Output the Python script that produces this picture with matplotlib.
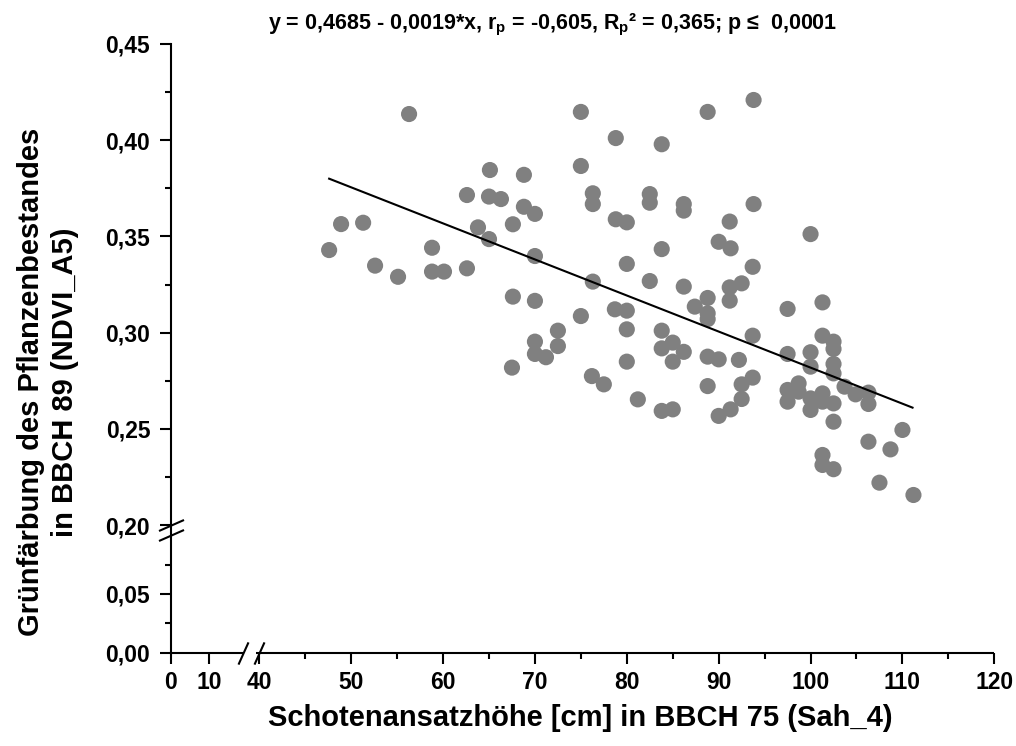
import numpy as np
import matplotlib
matplotlib.use("Agg")
import matplotlib.pyplot as plt

# ---------------- data ----------------
sah_4 = [56.3, 65.1, 68.8, 62.6, 65.0, 66.3, 68.8, 70.0, 48.9, 51.3, 63.8, 67.6,
         65.0, 47.6, 58.8, 70.0, 52.6, 55.1, 58.8, 60.1, 62.6, 67.6, 70.0, 70.0,
         70.0, 71.2, 67.5, 75.0, 88.8, 78.8, 83.8, 75.0, 76.3, 76.3, 82.5, 82.5,
         86.2, 86.2, 91.2, 78.8, 80.0, 90.0, 91.3, 83.8, 80.0, 76.3, 82.5, 86.2,
         88.8, 91.2, 93.7, 92.5, 91.2, 88.8, 88.8, 87.4, 78.7, 80.0, 75.0, 80.0,
         83.8, 72.5, 72.5, 83.8, 85.0, 86.2, 85.0, 80.0, 88.8, 90.0, 92.2, 76.2,
         77.5, 88.8, 92.5, 81.2, 83.8, 85.0, 90.0, 91.3, 92.5, 93.8, 93.8, 100.0,
         97.5, 101.3, 93.7, 101.3, 102.5, 102.5, 97.5, 100.0, 100.0, 102.5, 102.5,
         93.7, 98.7, 97.5, 97.5, 98.7, 100.0, 100.0, 101.3, 101.3, 102.5, 102.5,
         103.7, 104.9, 106.3, 106.3, 106.3, 108.7, 110.0, 101.3, 101.3, 102.5,
         107.5, 111.2]
ndvi_a5 = [0.4136, 0.3845, 0.3820, 0.3715, 0.3707, 0.3694, 0.3654, 0.3617, 0.3564,
           0.3571, 0.3547, 0.3563, 0.3486, 0.3429, 0.3441, 0.3398, 0.3348, 0.3290,
           0.3317, 0.3317, 0.3334, 0.3187, 0.3165, 0.2953, 0.2889, 0.2872, 0.2818,
           0.4147, 0.4147, 0.4011, 0.3979, 0.3866, 0.3724, 0.3668, 0.3720, 0.3675,
           0.3668, 0.3634, 0.3577, 0.3589, 0.3573, 0.3472, 0.3438, 0.3434, 0.3357,
           0.3265, 0.3268, 0.3239, 0.3180, 0.3235, 0.3342, 0.3256, 0.3166, 0.3100,
           0.3070, 0.3135, 0.3121, 0.3114, 0.3086, 0.3017, 0.3010, 0.3010, 0.2930,
           0.2918, 0.2948, 0.2900, 0.2849, 0.2849, 0.2875, 0.2861, 0.2858, 0.2774,
           0.2731, 0.2722, 0.2731, 0.2653, 0.2593, 0.2601, 0.2567, 0.2601, 0.2655,
           0.4209, 0.3668, 0.3512, 0.3123, 0.3157, 0.2984, 0.2984, 0.2953, 0.2915,
           0.2889, 0.2898, 0.2823, 0.2837, 0.2788, 0.2766, 0.2736, 0.2702, 0.2641,
           0.2693, 0.2658, 0.2598, 0.2684, 0.2641, 0.2632, 0.2537, 0.2719, 0.2679,
           0.2688, 0.2629, 0.2433, 0.2393, 0.2494, 0.2364, 0.2312, 0.2290, 0.2220,
           0.2156]
fit_x = [47.6, 111.1]
fit_y = [0.380, 0.261]

x_major = [0, 10, 40, 50, 60, 70, 80, 90, 100, 110, 120]
x_minor = [45, 55, 65, 75, 85, 95, 105, 115]
y_major = [0.00, 0.05, 0.20, 0.25, 0.30, 0.35, 0.40, 0.45]
y_minor = [0.025, 0.075, 0.225, 0.275, 0.325, 0.375, 0.425]

title = ("y = 0,4685 - 0,0019*x, r$_{p}$ = -0,605, R$_{p}$\u00b2 = 0,365; "
         "p \u2264  0,0001")
xlabel = "Schotenansatzh\u00f6he [cm] in BBCH 75 (Sah_4)"
ylabel = "Gr\u00fcnf\u00e4rbung des Pflanzenbestandes\nin BBCH 89 (NDVI_A5)"

# ---------------- style ----------------
plt.rcParams['font.family'] = ['Liberation Sans', 'DejaVu Sans']
plt.rcParams['font.weight'] = 'bold'
plt.rcParams['mathtext.fontset'] = 'custom'
plt.rcParams['mathtext.rm'] = 'Liberation Sans:bold'
plt.rcParams['mathtext.it'] = 'Liberation Sans:bold'
plt.rcParams['mathtext.bf'] = 'Liberation Sans:bold'


def piecewise(xp, fp):
    xp = np.asarray(xp, float)
    fp = np.asarray(fp, float)
    s0 = (fp[1] - fp[0]) / (xp[1] - xp[0])
    s1 = (fp[-1] - fp[-2]) / (xp[-1] - xp[-2])

    def f(v):
        v = np.asarray(v, float)
        out = np.interp(v, xp, fp)
        out = np.where(v < xp[0], fp[0] + (v - xp[0]) * s0, out)
        out = np.where(v > xp[-1], fp[-1] + (v - xp[-1]) * s1, out)
        return out
    return f


# broken-axis scales (segment widths in pixel units)
xb_data = [0, 19, 39.4, 120]
xb_pix = [171, 243.2, 253.8, 994.3]
yb_data = [0.0, 0.10, 0.20, 0.45]
yb_pix = [93.3, 210.7, 221.0, 702.0]

W, H = 1016, 746
fig = plt.figure(figsize=(W / 100, H / 100), dpi=100)
ax = fig.add_axes([xb_pix[0] / W, yb_pix[0] / H,
                   (xb_pix[-1] - xb_pix[0]) / W, (yb_pix[-1] - yb_pix[0]) / H])
ax.set_xscale('function', functions=(piecewise(xb_data, xb_pix), piecewise(xb_pix, xb_data)))
ax.set_yscale('function', functions=(piecewise(yb_data, yb_pix), piecewise(yb_pix, yb_data)))
ax.set_xlim(0, 120)
ax.set_ylim(0, 0.45)

ax.scatter(sah_4, ndvi_a5, s=135, color='#808080', edgecolors='none', zorder=2, clip_on=False)
ax.plot(fit_x, fit_y, color='black', lw=1.5, zorder=3)

# spines
for s in ['top', 'right', 'bottom']:
    ax.spines[s].set_visible(False)
ax.spines['left'].set_linewidth(1.5)
ax.plot([0, 19], [0, 0], color='black', lw=1.5, clip_on=False, solid_capstyle='butt', zorder=4)
ax.plot([39.6, 120], [0, 0], color='black', lw=1.5, clip_on=False, solid_capstyle='butt', zorder=4)
# break marks
ax.plot([18.9, 40.0], [0, 0], ls='none', marker=[(-0.45, -1), (0.45, 1)], ms=16,
        mew=1.5, color='black', clip_on=False, zorder=5)
ax.plot([0, 0], [0.10, 0.20], ls='none', marker=[(-1, -0.44), (1, 0.44)], ms=18,
        mew=1.5, color='black', clip_on=False, zorder=5)

ax.set_xticks(x_major)
ax.set_xticklabels([str(v) for v in x_major])
ax.set_xticks(x_minor, minor=True)
ax.set_yticks(y_major)
ax.set_yticklabels([f"{v:.2f}".replace('.', ',') for v in y_major])
ax.set_yticks(y_minor, minor=True)
ax.tick_params(which='major', direction='out', length=8, width=1.5, labelsize=16.5, pad=5)
ax.tick_params(axis='y', which='major', pad=7)
ax.tick_params(which='minor', direction='out', length=4, width=1.5)
for lab in ax.get_xticklabels() + ax.get_yticklabels():
    lab.set_fontweight('bold')

fig.text(553 / W, 1 - 25 / H, title, ha='center', va='center', fontsize=15.5,
         fontweight='bold')
fig.text(580 / W, 1 - 718 / H, xlabel, ha='center', va='center', fontsize=21, fontweight='bold')
fig.text(48 / W, 1 - 382 / H, ylabel, ha='center', va='center', rotation=90,
         multialignment='center', fontsize=21, fontweight='bold', linespacing=1.3)

fig.savefig('out.png', dpi=100, facecolor='white')
